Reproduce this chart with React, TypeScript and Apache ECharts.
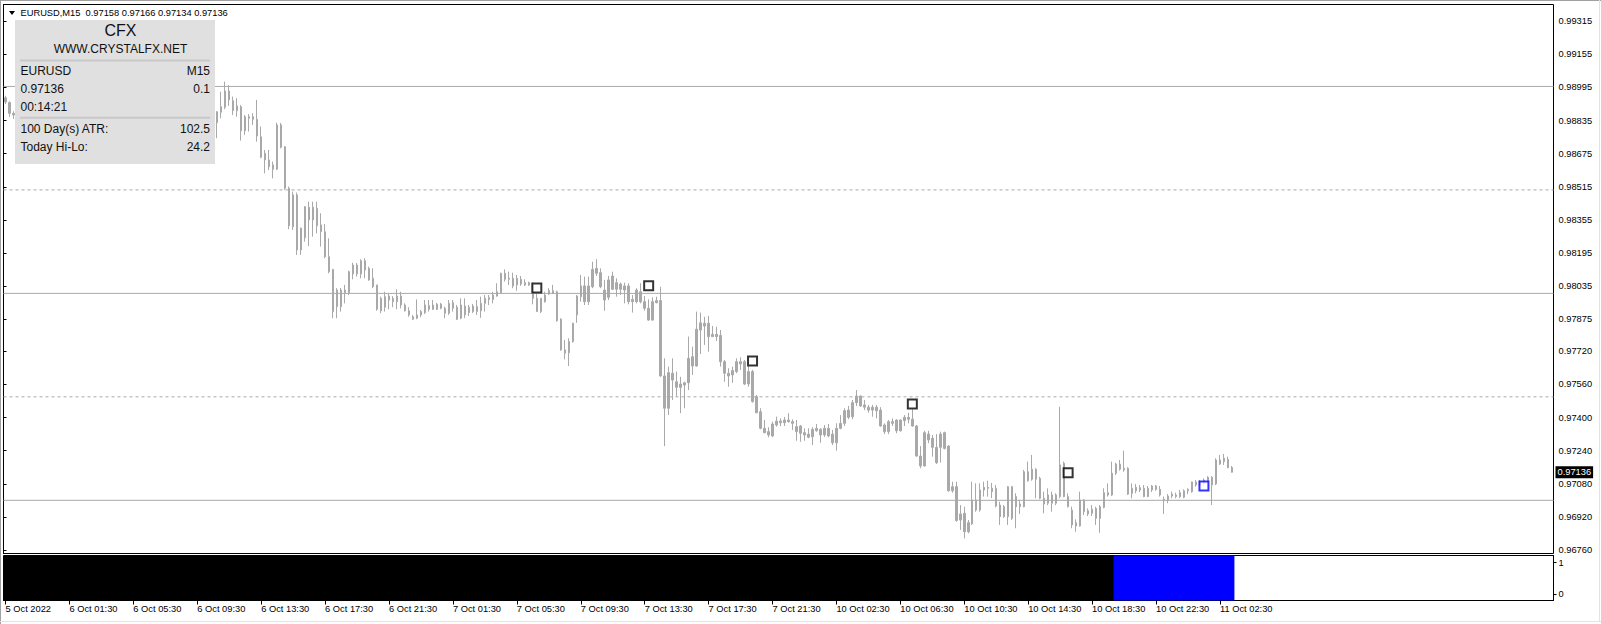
import React, { useEffect, useRef } from "react";
import * as echarts from "echarts";

// ---- DATA ----
// M15 candles, each row: [open, high, low, close]
const ohlc: [number, number, number, number][] = [
  [0.98945,0.98955,0.98915,0.98925],[0.98922,0.98928,0.98853,0.98870],[0.98870,0.98880,0.98843,0.98862],[0.98862,0.98890,0.98850,0.98875],
  [0.98875,0.98905,0.98868,0.98890],[0.98890,0.98898,0.98855,0.98868],[0.98868,0.98892,0.98860,0.98880],[0.98880,0.98915,0.98872,0.98905],
  [0.98905,0.98925,0.98895,0.98912],[0.98912,0.98920,0.98885,0.98896],[0.98896,0.98930,0.98890,0.98920],[0.98920,0.98948,0.98912,0.98935],
  [0.98935,0.98945,0.98915,0.98928],[0.98928,0.98936,0.98900,0.98910],[0.98910,0.98918,0.98880,0.98890],[0.98890,0.98912,0.98882,0.98902],
  [0.98902,0.98910,0.98875,0.98885],[0.98885,0.98892,0.98850,0.98860],[0.98860,0.98884,0.98852,0.98872],[0.98872,0.98905,0.98865,0.98895],
  [0.98895,0.98925,0.98888,0.98915],[0.98915,0.98952,0.98908,0.98940],[0.98940,0.98970,0.98932,0.98958],[0.98958,0.98966,0.98938,0.98946],
  [0.98946,0.98952,0.98920,0.98930],[0.98930,0.98960,0.98925,0.98951],[0.98951,0.98982,0.98944,0.98970],[0.98970,0.98978,0.98952,0.98962],
  [0.98962,0.98968,0.98932,0.98940],[0.98940,0.98946,0.98915,0.98925],[0.98925,0.98930,0.98896,0.98905],[0.98905,0.98926,0.98898,0.98918],
  [0.98918,0.98922,0.98890,0.98900],[0.98900,0.98908,0.98872,0.98880],[0.98880,0.98886,0.98856,0.98866],[0.98866,0.98894,0.98860,0.98885],
  [0.98885,0.98890,0.98864,0.98872],[0.98872,0.98878,0.98842,0.98850],[0.98850,0.98858,0.98828,0.98838],[0.98838,0.98864,0.98832,0.98856],
  [0.98856,0.98880,0.98850,0.98870],[0.98870,0.98876,0.98852,0.98862],[0.98862,0.98866,0.98836,0.98845],[0.98845,0.98850,0.98820,0.98830],
  [0.98830,0.98852,0.98824,0.98842],[0.98842,0.98868,0.98836,0.98860],[0.98860,0.98866,0.98842,0.98852],[0.98852,0.98858,0.98828,0.98836],
  [0.98836,0.98842,0.98812,0.98820],[0.98820,0.98845,0.98815,0.98835],[0.98835,0.98856,0.98828,0.98848],[0.98848,0.98854,0.98830,0.98838],
  [0.98838,0.98844,0.98818,0.98825],[0.98825,0.98880,0.98750,0.98878],[0.98875,0.98975,0.98846,0.98902],[0.98900,0.99023,0.98890,0.98978],
  [0.98978,0.99007,0.98906,0.98935],[0.98931,0.98951,0.98862,0.98883],[0.98883,0.98943,0.98854,0.98906],[0.98902,0.98910,0.98738,0.98786],
  [0.98786,0.98862,0.98766,0.98854],[0.98854,0.98866,0.98782,0.98846],[0.98841,0.98870,0.98814,0.98854],[0.98841,0.98935,0.98733,0.98761],
  [0.98757,0.98806,0.98653,0.98658],[0.98677,0.98693,0.98580,0.98645],[0.98645,0.98693,0.98596,0.98612],[0.98621,0.98637,0.98556,0.98600],
  [0.98600,0.98825,0.98596,0.98814],[0.98814,0.98824,0.98701,0.98706],[0.98709,0.98712,0.98500,0.98508],[0.98508,0.98516,0.98310,0.98327],
  [0.98322,0.98492,0.98306,0.98476],[0.98476,0.98487,0.98186,0.98210],[0.98210,0.98318,0.98186,0.98315],[0.98269,0.98422,0.98250,0.98419],
  [0.98416,0.98443,0.98229,0.98355],[0.98355,0.98443,0.98274,0.98416],[0.98411,0.98443,0.98290,0.98327],[0.98331,0.98387,0.98226,0.98298],
  [0.98298,0.98335,0.98170,0.98177],[0.98177,0.98266,0.98097,0.98105],[0.98116,0.98118,0.97880,0.97912],[0.97936,0.98025,0.97880,0.98016],
  [0.98016,0.98026,0.97912,0.97936],[0.98003,0.98041,0.97952,0.98016],[0.98003,0.98110,0.97992,0.98105],[0.98094,0.98148,0.98068,0.98137],
  [0.98137,0.98147,0.98081,0.98094],[0.98094,0.98165,0.98073,0.98158],[0.98158,0.98170,0.98073,0.98113],[0.98121,0.98129,0.98061,0.98065],
  [0.98073,0.98121,0.98025,0.98032],[0.98041,0.98041,0.97916,0.97923],[0.97916,0.97984,0.97904,0.97976],[0.97984,0.98008,0.97912,0.97933],
  [0.97968,0.98000,0.97923,0.97987],[0.97976,0.97987,0.97933,0.97960],[0.97960,0.98020,0.97923,0.97987],[0.97987,0.98008,0.97928,0.97944],
  [0.97944,0.97952,0.97912,0.97916],[0.97916,0.97933,0.97887,0.97896],[0.97887,0.97896,0.97871,0.97875],[0.97880,0.97971,0.97875,0.97896],
  [0.97896,0.97920,0.97885,0.97912],[0.97907,0.97968,0.97900,0.97944],[0.97941,0.97968,0.97912,0.97923],[0.97923,0.97968,0.97920,0.97944],
  [0.97948,0.97954,0.97920,0.97923],[0.97928,0.97954,0.97923,0.97948],[0.97928,0.97936,0.97880,0.97904],[0.97904,0.97968,0.97896,0.97952],
  [0.97955,0.97968,0.97912,0.97928],[0.97933,0.97944,0.97871,0.97875],[0.97880,0.97976,0.97875,0.97944],[0.97939,0.97976,0.97880,0.97896],
  [0.97907,0.97944,0.97891,0.97933],[0.97939,0.97949,0.97905,0.97912],[0.97912,0.97968,0.97896,0.97936],[0.97916,0.97984,0.97882,0.97952],
  [0.97952,0.97992,0.97912,0.97976],[0.97971,0.97992,0.97944,0.97979],[0.97971,0.98008,0.97952,0.97992],[0.97987,0.98049,0.97984,0.98008],
  [0.98003,0.98100,0.98000,0.98097],[0.98097,0.98116,0.98057,0.98068],[0.98068,0.98105,0.98041,0.98073],[0.98073,0.98100,0.98025,0.98036],
  [0.98041,0.98089,0.98013,0.98073],[0.98068,0.98084,0.98036,0.98045],[0.98041,0.98068,0.98036,0.98052],[0.98052,0.98057,0.98036,0.98041],
  [0.98041,0.98052,0.97947,0.97976],[0.97976,0.98000,0.97912,0.97912],[0.97912,0.97976,0.97905,0.97976],[0.97960,0.98008,0.97955,0.97992],
  [0.97997,0.98025,0.97992,0.98013],[0.98013,0.98041,0.97997,0.98000],[0.98008,0.98013,0.97863,0.97868],[0.97875,0.97880,0.97723,0.97727],
  [0.97727,0.97775,0.97681,0.97711],[0.97713,0.97783,0.97649,0.97767],[0.97767,0.97858,0.97762,0.97856],[0.97896,0.97992,0.97858,0.97987],
  [0.97984,0.98089,0.97960,0.98036],[0.98036,0.98081,0.97944,0.97960],[0.97960,0.98081,0.97944,0.98036],[0.98032,0.98153,0.98025,0.98116],
  [0.98121,0.98165,0.98084,0.98097],[0.98100,0.98121,0.98025,0.98032],[0.98016,0.98065,0.97916,0.97968],[0.97981,0.98084,0.97968,0.98065],
  [0.98020,0.98105,0.98016,0.98084],[0.98052,0.98073,0.97984,0.98020],[0.98020,0.98052,0.97992,0.98045],[0.98036,0.98052,0.97952,0.98016],
  [0.98036,0.98049,0.97947,0.97960],[0.97960,0.97992,0.97907,0.97971],[0.97960,0.98025,0.97952,0.98016],[0.98008,0.98049,0.97952,0.97960],
  [0.97960,0.97987,0.97916,0.97928],[0.97928,0.97971,0.97868,0.97871],[0.97871,0.97981,0.97868,0.97960],[0.97955,0.97984,0.97952,0.97965],
  [0.97965,0.98032,0.97597,0.97601],[0.97601,0.97686,0.97262,0.97445],[0.97445,0.97646,0.97412,0.97617],[0.97614,0.97686,0.97485,0.97581],
  [0.97573,0.97622,0.97501,0.97546],[0.97546,0.97597,0.97421,0.97562],[0.97557,0.97573,0.97445,0.97568],[0.97568,0.97791,0.97533,0.97686],
  [0.97694,0.97742,0.97606,0.97649],[0.97649,0.97912,0.97646,0.97827],[0.97823,0.97907,0.97707,0.97858],[0.97856,0.97887,0.97751,0.97842],
  [0.97856,0.97891,0.97718,0.97791],[0.97791,0.97842,0.97791,0.97802],[0.97802,0.97839,0.97770,0.97791],[0.97797,0.97823,0.97646,0.97670],
  [0.97670,0.97678,0.97573,0.97614],[0.97614,0.97638,0.97549,0.97601],[0.97606,0.97646,0.97568,0.97627],[0.97622,0.97686,0.97614,0.97670],
  [0.97670,0.97691,0.97630,0.97659],[0.97670,0.97678,0.97557,0.97562],[0.97562,0.97649,0.97549,0.97622],[0.97622,0.97630,0.97472,0.97477],
  [0.97501,0.97509,0.97421,0.97423],[0.97428,0.97445,0.97343,0.97348],[0.97348,0.97388,0.97324,0.97327],[0.97332,0.97353,0.97305,0.97316],
  [0.97311,0.97380,0.97305,0.97369],[0.97364,0.97404,0.97356,0.97383],[0.97383,0.97396,0.97359,0.97375],[0.97375,0.97403,0.97359,0.97388],
  [0.97388,0.97421,0.97375,0.97380],[0.97380,0.97391,0.97340,0.97372],[0.97356,0.97388,0.97288,0.97332],[0.97324,0.97364,0.97283,0.97359],
  [0.97327,0.97348,0.97288,0.97316],[0.97320,0.97348,0.97300,0.97305],[0.97307,0.97353,0.97267,0.97343],[0.97348,0.97369,0.97332,0.97336],
  [0.97343,0.97348,0.97278,0.97316],[0.97316,0.97364,0.97306,0.97348],[0.97348,0.97369,0.97305,0.97311],[0.97320,0.97340,0.97267,0.97278],
  [0.97278,0.97372,0.97240,0.97348],[0.97348,0.97412,0.97343,0.97372],[0.97372,0.97445,0.97359,0.97433],[0.97436,0.97456,0.97392,0.97401],
  [0.97404,0.97485,0.97392,0.97472],[0.97472,0.97533,0.97456,0.97504],[0.97504,0.97506,0.97452,0.97456],[0.97461,0.97485,0.97436,0.97450],
  [0.97450,0.97461,0.97423,0.97436],[0.97436,0.97461,0.97404,0.97450],[0.97450,0.97461,0.97396,0.97433],[0.97436,0.97450,0.97356,0.97359],
  [0.97364,0.97372,0.97320,0.97332],[0.97332,0.97388,0.97320,0.97380],[0.97380,0.97396,0.97359,0.97372],[0.97388,0.97391,0.97324,0.97336],
  [0.97336,0.97391,0.97332,0.97388],[0.97385,0.97412,0.97359,0.97401],[0.97401,0.97423,0.97372,0.97392],[0.97392,0.97440,0.97356,0.97359],
  [0.97359,0.97364,0.97211,0.97214],[0.97214,0.97262,0.97155,0.97166],[0.97166,0.97336,0.97163,0.97327],[0.97320,0.97336,0.97276,0.97292],
  [0.97300,0.97316,0.97211,0.97256],[0.97256,0.97320,0.97175,0.97182],[0.97256,0.97332,0.97182,0.97320],[0.97327,0.97332,0.97246,0.97251],
  [0.97262,0.97267,0.97042,0.97046],[0.97046,0.97090,0.97037,0.97066],[0.97066,0.97090,0.96897,0.96902],[0.96905,0.96977,0.96857,0.96934],
  [0.96937,0.96969,0.96816,0.96848],[0.96848,0.96905,0.96841,0.96892],[0.96886,0.97090,0.96881,0.97002],[0.97002,0.97082,0.96945,0.96953],
  [0.96953,0.97082,0.96945,0.97050],[0.97050,0.97090,0.97018,0.97063],[0.97063,0.97095,0.97018,0.97058],[0.97058,0.97084,0.97011,0.97042],
  [0.97058,0.97074,0.96966,0.96972],[0.96977,0.96993,0.96881,0.96921],[0.96921,0.96977,0.96915,0.96969],[0.96921,0.97069,0.96881,0.97066],
  [0.97066,0.97069,0.96905,0.96913],[0.96969,0.97034,0.96865,0.97018],[0.96982,0.97002,0.96934,0.96969],[0.96969,0.97147,0.96966,0.97138],
  [0.97138,0.97187,0.97090,0.97095],[0.97102,0.97219,0.97095,0.97150],[0.97150,0.97155,0.97010,0.97102],[0.97106,0.97114,0.97005,0.97010],
  [0.97010,0.97042,0.96937,0.96982],[0.96986,0.97058,0.96977,0.97026],[0.97026,0.97042,0.96945,0.96986],[0.96986,0.97034,0.96977,0.97026],
  [0.97018,0.97452,0.97010,0.97171],[0.97179,0.97187,0.97015,0.97018],[0.97018,0.97034,0.96966,0.96969],[0.96953,0.96969,0.96865,0.96881],
  [0.96876,0.96908,0.96848,0.96892],[0.96876,0.97042,0.96873,0.97002],[0.97002,0.97005,0.96929,0.96945],[0.96950,0.96961,0.96924,0.96934],
  [0.96937,0.96977,0.96924,0.96957],[0.96961,0.96969,0.96881,0.96913],[0.96913,0.96977,0.96843,0.96969],[0.96966,0.97058,0.96961,0.97037],
  [0.97037,0.97082,0.97018,0.97026],[0.97026,0.97187,0.97021,0.97131],[0.97131,0.97182,0.97122,0.97175],[0.97175,0.97195,0.97143,0.97150],
  [0.97147,0.97240,0.97138,0.97155],[0.97155,0.97160,0.97026,0.97030],[0.97034,0.97082,0.97010,0.97058],[0.97063,0.97079,0.97034,0.97046],
  [0.97050,0.97074,0.97040,0.97061],[0.97058,0.97074,0.97015,0.97018],[0.97018,0.97069,0.97015,0.97058],[0.97050,0.97074,0.97040,0.97069],
  [0.97069,0.97074,0.97046,0.97053],[0.97053,0.97069,0.97018,0.97026],[0.97005,0.97018,0.96934,0.96998],[0.97002,0.97030,0.96986,0.97021],
  [0.97021,0.97042,0.97010,0.97030],[0.97026,0.97037,0.97010,0.97018],[0.97018,0.97050,0.97010,0.97037],[0.97015,0.97053,0.97010,0.97046],
  [0.97046,0.97058,0.97030,0.97053],[0.97042,0.97090,0.97037,0.97089],[0.97089,0.97098,0.97066,0.97074],[0.97074,0.97098,0.97069,0.97090],
  [0.97079,0.97106,0.97069,0.97098],[0.97089,0.97117,0.97079,0.97111],[0.97111,0.97117,0.96977,0.97074],[0.97079,0.97203,0.97074,0.97195],
  [0.97195,0.97219,0.97171,0.97175],[0.97187,0.97224,0.97171,0.97203],[0.97198,0.97211,0.97155,0.97158],[0.97158,0.97166,0.97134,0.97136],
];

// time-axis labels, one every 16 bars (MT4 style)
const xTickLabels = [
  "5 Oct 2022", "6 Oct 01:30", "6 Oct 05:30", "6 Oct 09:30", "6 Oct 13:30", "6 Oct 17:30", "6 Oct 21:30",
  "7 Oct 01:30", "7 Oct 05:30", "7 Oct 09:30", "7 Oct 13:30", "7 Oct 17:30", "7 Oct 21:30",
  "10 Oct 02:30", "10 Oct 06:30", "10 Oct 10:30", "10 Oct 14:30", "10 Oct 18:30", "10 Oct 22:30", "11 Oct 02:30",
];
const BARS_PER_LABEL = 16;
const SLOT_COUNT = 388; // bar slots visible across the chart width (incl. empty right margin)

// right price scale labels
const yTickValues = [
  0.99315, 0.99155, 0.98995, 0.98835, 0.98675, 0.98515, 0.98355, 0.98195, 0.98035,
  0.97875, 0.9772, 0.9756, 0.974, 0.9724, 0.9708, 0.9692, 0.9676,
];
const priceMin = 0.96743;
const priceMax = 0.99396;

// horizontal levels
const levelsSolid = [0.99, 0.98, 0.97];
const levelsDashed = [0.985, 0.975];

// square markers [barIndex, price]
const markersBlack: [number, number][] = [
  [133, 0.98026], [161, 0.98037], [187, 0.97673], [227, 0.97465], [266, 0.97133],
];
const markersBlue: [number, number][] = [[300, 0.97069]];

// lower indicator: state runs (value 1 for each bar)
const signalRuns = [
  { from: 0, to: 277, color: "#000000" },
  { from: 278, to: 307, color: "#0000ff" },
];
const signalTicks = [0, 1];

// header / info panel
const symbolHeader = "EURUSD,M15\u00a0 0.97158 0.97166 0.97134 0.97136";
const lastPrice = 0.97136;
const panelRows: [string, string, number][] = [
  ["EURUSD", "M15", 70.8],
  ["0.97136", "0.1", 88.6],
  ["00:14:21", "", 106.8],
  ["100 Day(s) ATR:", "102.5", 128.8],
  ["Today Hi-Lo:", "24.2", 146.8],
];

const FONT = "'Liberation Sans', Arial, sans-serif";
const CANDLE = "#a9a9a9";

export default function App() {
  const ref = useRef<HTMLDivElement>(null);

  useEffect(() => {
    if (!ref.current) return;
    const chart = echarts.init(ref.current, undefined, { renderer: "svg" });

    const slots = Array.from({ length: SLOT_COUNT }, (_, i) => String(i));
    const candleData = ohlc.map(([o, h, l, c]) => [o, c, l, h]);
    const signalData: any[] = [];
    signalRuns.forEach((r) => {
      for (let i = r.from; i <= r.to; i++) {
        signalData[i] = { value: 1, itemStyle: { color: r.color } };
      }
    });
    const showTick = (index: number) =>
      index % BARS_PER_LABEL === 0 && index / BARS_PER_LABEL < xTickLabels.length;

    const gridLeft = 3.5;
    const gridWidth = 1550;

    const levelSeries = [
      ...levelsSolid.map((v) => ({ v, type: "solid" as any })),
      ...levelsDashed.map((v) => ({ v, type: [3, 3] as any })),
    ].map(({ v, type }) => ({
      type: "line", xAxisIndex: 2, yAxisIndex: 0, data: [[0, v], [1, v]],
      symbol: "none", silent: true, z: 1, clip: false,
      lineStyle: { color: CANDLE, width: 1, type },
    }));

    const option: any = {
      animation: false,
      backgroundColor: "#ffffff",
      grid: [
        { left: gridLeft, top: 4.5, width: gridWidth, height: 549, show: true, borderColor: "#000", borderWidth: 1, containLabel: false },
        { left: gridLeft, top: 555.5, width: gridWidth, height: 45, show: true, borderColor: "#000", borderWidth: 1, containLabel: false },
      ],
      xAxis: [
        {
          gridIndex: 0, type: "category", data: slots, boundaryGap: true,
          axisLine: { show: false }, axisTick: { show: false }, axisLabel: { show: false }, splitLine: { show: false },
        },
        {
          gridIndex: 1, type: "category", data: slots, boundaryGap: true, position: "bottom",
          axisLine: { show: true, onZero: false, lineStyle: { color: "#000", width: 1 } },
          axisTick: { show: true, alignWithLabel: true, interval: showTick, length: 4, lineStyle: { color: "#000" } },
          axisLabel: {
            show: true, interval: showTick, align: "left", verticalAlign: "top", margin: 4,
            fontSize: 9.3, fontFamily: FONT, color: "#000",
            formatter: (_v: string, index: number) => xTickLabels[index / BARS_PER_LABEL] ?? "",
          },
          splitLine: { show: false },
        },
        // full-width helper axis for horizontal level lines
        { gridIndex: 0, type: "value", min: 0, max: 1, show: false, splitLine: { show: false } },
      ],
      yAxis: [
        {
          gridIndex: 0, type: "value", position: "right", min: priceMin, max: priceMax, scale: true,
          splitLine: { show: false },
          axisLine: { show: true, lineStyle: { color: "#000" } },
          axisTick: { show: true, length: 3, customValues: yTickValues, lineStyle: { color: "#000" } },
          axisLabel: {
            show: true, customValues: yTickValues, margin: 5, fontSize: 9.3, fontFamily: FONT, color: "#000",
            formatter: (v: number) => v.toFixed(5),
          },
        },
        {
          gridIndex: 1, type: "value", position: "right", min: -0.196, max: 1.228,
          splitLine: { show: false },
          axisLine: { show: true, onZero: false, lineStyle: { color: "#000" } },
          axisTick: { show: true, length: 3, customValues: signalTicks, lineStyle: { color: "#000" } },
          axisLabel: {
            show: true, customValues: signalTicks, margin: 5, fontSize: 9.3, fontFamily: FONT, color: "#000",
            formatter: (v: number) => String(Math.round(v)),
          },
        },
        { gridIndex: 1, type: "value", min: 0, max: 1, show: false, splitLine: { show: false } },
        // current price tag
        {
          gridIndex: 0, type: "value", position: "right", min: priceMin, max: priceMax, scale: true,
          splitLine: { show: false }, axisLine: { show: false }, axisTick: { show: false },
          axisLabel: {
            show: true, customValues: [lastPrice], margin: 2, fontSize: 9.3, fontFamily: FONT, color: "#fff",
            backgroundColor: "#000", padding: [2, 2, 1, 2],
            formatter: (v: number) => v.toFixed(5),
          },
          z: 10,
        },
      ],
      series: [
        ...levelSeries,
        {
          type: "candlestick", xAxisIndex: 0, yAxisIndex: 0, data: candleData, barWidth: 2,
          itemStyle: { color: CANDLE, color0: CANDLE, borderColor: CANDLE, borderColor0: CANDLE, borderWidth: 1 },
          z: 2,
        },
        {
          type: "scatter", xAxisIndex: 0, yAxisIndex: 0, data: markersBlack, symbol: "rect", symbolSize: 9,
          itemStyle: { color: "#ffffff", borderColor: "#000000", borderWidth: 2 }, z: 5, silent: true,
        },
        {
          type: "scatter", xAxisIndex: 0, yAxisIndex: 0, data: markersBlue, symbol: "rect", symbolSize: 9,
          itemStyle: { color: "#ffffff", borderColor: "#0000ff", borderWidth: 2 }, z: 5, silent: true,
        },
        {
          type: "bar", xAxisIndex: 1, yAxisIndex: 2, data: signalData, barWidth: 5,
          silent: true, z: 1,
        },
      ],
      graphic: [
        // window frame
        { type: "line", z: 100, shape: { x1: 0, y1: 0.5, x2: 1601, y2: 0.5 }, style: { stroke: "#a0a0a0", lineWidth: 1 } },
        { type: "line", z: 100, shape: { x1: 0.5, y1: 0, x2: 0.5, y2: 624 }, style: { stroke: "#a0a0a0", lineWidth: 1 } },
        { type: "line", z: 100, shape: { x1: 0, y1: 621.5, x2: 1601, y2: 621.5 }, style: { stroke: "#e3e3e3", lineWidth: 1 } },
        { type: "line", z: 100, shape: { x1: 1599.5, y1: 0, x2: 1599.5, y2: 622 }, style: { stroke: "#e3e3e3", lineWidth: 1 } },
        // header
        { type: "polygon", z: 100, shape: { points: [[9, 11], [15, 11], [12, 15]] }, style: { fill: "#000" } },
        {
          type: "text", z: 100, x: 20.5, y: 12.8,
          style: { text: symbolHeader, fill: "#000", font: `9.3px ${FONT}`, textAlign: "left", textVerticalAlign: "middle" },
        },
        // info panel
        { type: "rect", z: 100, shape: { x: 15, y: 20, width: 200, height: 144 }, style: { fill: "#e0e0e0" } },
        { type: "rect", z: 101, shape: { x: 20, y: 59.5, width: 190, height: 2 }, style: { fill: "#c8c8c8" } },
        { type: "rect", z: 101, shape: { x: 20, y: 116.8, width: 190, height: 2 }, style: { fill: "#c8c8c8" } },
        {
          type: "text", z: 101, x: 120.5, y: 30.5,
          style: { text: "CFX", fill: "#111", font: `16px ${FONT}`, textAlign: "center", textVerticalAlign: "middle" },
        },
        {
          type: "text", z: 101, x: 120.5, y: 49,
          style: { text: "WWW.CRYSTALFX.NET", fill: "#111", font: `12px ${FONT}`, textAlign: "center", textVerticalAlign: "middle" },
        },
        ...panelRows.flatMap(([l, r, y]) => [
          {
            type: "text", z: 101, x: 20.5, y,
            style: { text: l, fill: "#111", font: `12px ${FONT}`, textAlign: "left", textVerticalAlign: "middle" },
          },
          {
            type: "text", z: 101, x: 210, y,
            style: { text: r, fill: "#111", font: `12px ${FONT}`, textAlign: "right", textVerticalAlign: "middle" },
          },
        ]),
      ],
    };

    chart.setOption(option);
    return () => chart.dispose();
  }, []);

  return (
    <div
      ref={ref}
      style={{ position: "absolute", left: 0, top: 0, width: 1601, height: 624, background: "#fff" }}
    />
  );
}
